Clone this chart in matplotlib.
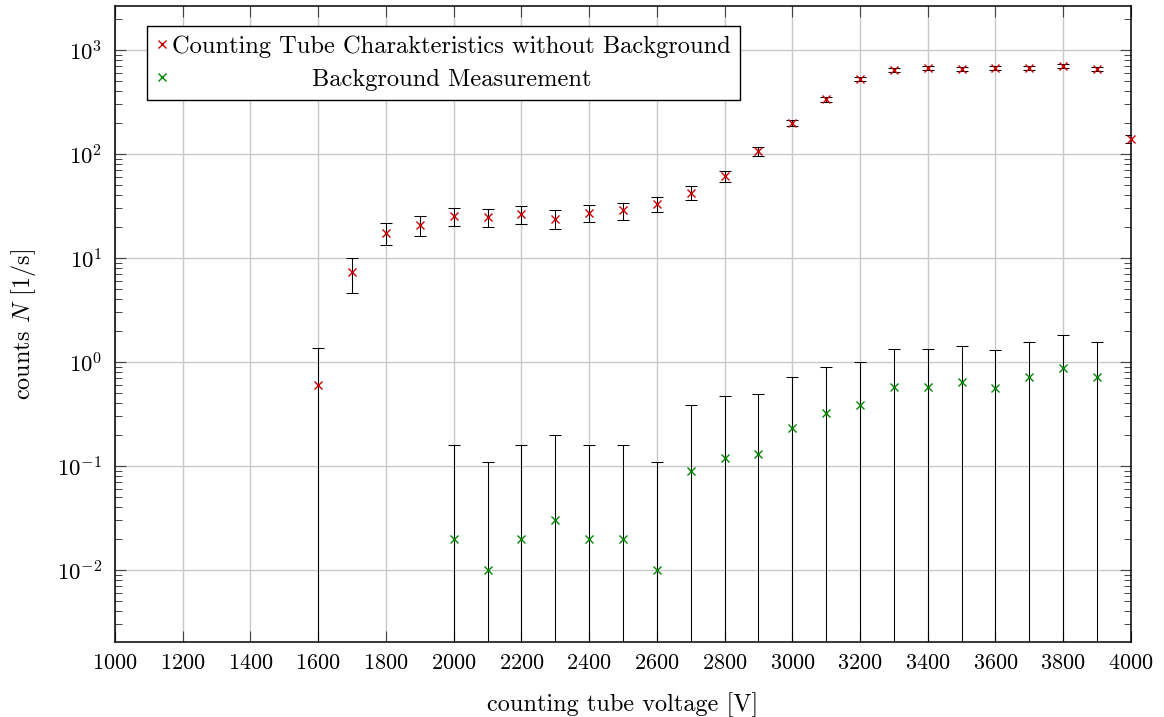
import numpy as np
import matplotlib
matplotlib.use("Agg")
import matplotlib.pyplot as plt
from matplotlib.ticker import LogLocator, NullFormatter

plt.rcParams['font.family'] = 'serif'
plt.rcParams['font.serif'] = ['cmr10', 'DejaVu Serif']
plt.rcParams['mathtext.fontset'] = 'cm'
plt.rcParams['axes.formatter.use_mathtext'] = True

# counting tube characteristics without background
voltage = [1600, 1700, 1800, 1900, 2000, 2100, 2200, 2300, 2400, 2500, 2600,
           2700, 2800, 2900, 3000, 3100, 3200, 3300, 3400, 3500, 3600, 3700,
           3800, 3900, 4000]
counts = [0.60, 7.3, 17.5, 21.0, 25.1, 24.7, 26.6, 23.8, 27.2, 28.7, 33.2,
          42.6, 61.1, 106, 199, 338, 526, 643, 671, 655, 671, 671, 700, 655, 139]
counts_err = [0.77, 2.7, 4.2, 4.6, 5.0, 5.0, 5.2, 4.9, 5.2, 5.4, 5.8,
              6.5, 7.8, 10.3, 14.1, 18.4, 22.9, 25.4, 25.9, 25.6, 25.9, 25.9,
              26.5, 25.6, 11.8]

# background measurement
bg_voltage = [2000, 2100, 2200, 2300, 2400, 2500, 2600, 2700, 2800, 2900,
              3000, 3100, 3200, 3300, 3400, 3500, 3600, 3700, 3800, 3900]
bg_counts = [0.02, 0.01, 0.02, 0.03, 0.02, 0.02, 0.01, 0.09, 0.12, 0.13,
             0.23, 0.32, 0.39, 0.58, 0.58, 0.64, 0.56, 0.72, 0.87, 0.71]
bg_err = [0.14, 0.10, 0.14, 0.17, 0.14, 0.14, 0.10, 0.30, 0.35, 0.36,
          0.48, 0.57, 0.62, 0.76, 0.76, 0.80, 0.75, 0.85, 0.93, 0.84]

x_ticks = list(range(1000, 4001, 200))
y_ticks = [1e-2, 1e-1, 1e0, 1e1, 1e2, 1e3]

label_sig = 'Counting Tube Charakteristics without Background'
label_bg = 'Background Measurement'

fig = plt.figure(figsize=(11.64, 7.17), dpi=100)
ax = fig.add_axes([0.0988, 0.1046, 0.8728, 0.887])

ax.set_yscale('log', nonpositive='clip')
ax.grid(True, which='major', color='#c8c8c8', linewidth=1.0, zorder=0)
ax.set_axisbelow(True)

ax.errorbar(voltage, counts, yerr=counts_err, fmt='none', ecolor='black',
            elinewidth=0.75, capsize=4.5, capthick=0.75, zorder=2)
ax.errorbar(bg_voltage, bg_counts, yerr=bg_err, fmt='none', ecolor='black',
            elinewidth=0.75, capsize=4.5, capthick=0.75, zorder=2)
ax.plot(voltage, counts, 'x', color='#cc0000', markersize=6, mew=1.0,
        label=label_sig, zorder=3, clip_on=False)
ax.plot(bg_voltage, bg_counts, 'x', color='#008800', markersize=6, mew=1.0,
        label=label_bg, zorder=3)

ax.set_xlim(1000, 4000)
ax.set_ylim(0.00203, 2650)
ax.set_xticks(x_ticks)
ax.set_yticks(y_ticks)
ax.yaxis.set_minor_locator(LogLocator(base=10, subs=np.arange(2, 10), numticks=20))
ax.yaxis.set_minor_formatter(NullFormatter())

ax.tick_params(which='both', direction='in', top=True, right=True,
               labelsize=16, color='#444444')
ax.tick_params(which='major', length=8, width=0.8)
ax.tick_params(axis='x', which='major', pad=8)
ax.tick_params(axis='y', which='major', pad=9, labelsize=16.5)
ax.tick_params(which='minor', length=5, width=0.7)
for s in ax.spines.values():
    s.set_linewidth(1.1)

ax.set_xlabel('counting tube voltage [V]', fontsize=17.5, labelpad=14)
ax.set_ylabel('counts $N$ [1/s]', fontsize=17.5, labelpad=14)

leg = ax.legend(loc='upper left', bbox_to_anchor=(0.0315, 0.9686),
                borderaxespad=0, fontsize=17.6, fancybox=False, framealpha=1,
                edgecolor='black', handlelength=0.45, handletextpad=0.2,
                borderpad=0.38, labelspacing=0.45)
leg.get_frame().set_linewidth(1.0)

# centre the shorter legend entry like the original
fig.canvas.draw()
r = fig.canvas.get_renderer()
w1 = leg.texts[0].get_window_extent(r).width
w2 = leg.texts[1].get_window_extent(r).width
leg.texts[1].set_x((w1 - w2) / 2)

fig.savefig('out.png', dpi=100)
